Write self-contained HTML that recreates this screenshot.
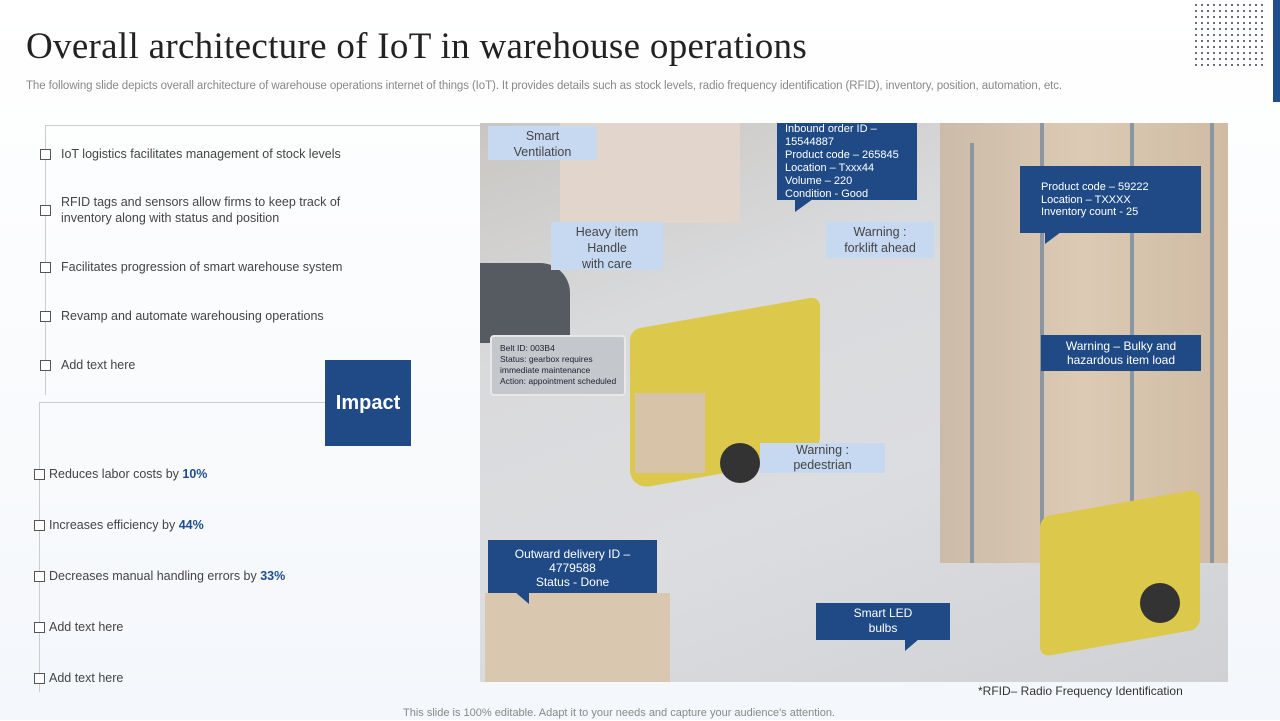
<!DOCTYPE html>
<html><head><meta charset="utf-8"><style>
*{margin:0;padding:0;box-sizing:border-box}
body{width:1280px;height:720px;position:relative;overflow:hidden;background:linear-gradient(#fff,#f4f7fb);font-family:"Liberation Sans",sans-serif;color:#444}
.a{position:absolute}
h1{position:absolute;left:26px;top:25px;font-family:"Liberation Serif",serif;font-weight:normal;font-size:37px;color:#222;letter-spacing:0.3px}
.sub{left:26px;top:80px;font-size:11.5px;color:#888;letter-spacing:-0.1px;white-space:nowrap}
.cb{position:absolute;width:11px;height:11px;border:1.3px solid #555;background:#fff}
.t{position:absolute;font-size:12.5px;color:#444;line-height:16px}
.t b{color:#1f4e8c}
.lb{position:absolute;background:#c6d9f0;color:#444;font-size:12.5px;text-align:center;line-height:16px}
.db{position:absolute;background:#1f4a86;color:#fff;font-size:11px;line-height:12.5px}
.dots{left:1193px;top:2px;width:72px;height:66px;background-image:radial-gradient(circle,#556 0.9px,transparent 1.2px);background-size:6px 6px}
</style></head><body>
<h1>Overall architecture of IoT in warehouse operations</h1>
<div class="a sub">The following slide depicts overall architecture of warehouse operations internet of things (IoT). It provides details such as stock levels, radio frequency identification (RFID), inventory,  position, automation, etc.</div>
<div class="a dots"></div>
<div class="a" style="left:1273px;top:0;width:7px;height:102px;background:#1f4e8c"></div>

<div class="a" style="left:45px;top:125px;width:436px;height:1px;background:#ccc"></div>
<div class="a" style="left:45px;top:125px;width:1px;height:270px;background:#ccc"></div>
<div class="a" style="left:39px;top:402px;width:290px;height:1px;background:#ccc"></div>
<div class="a" style="left:39px;top:402px;width:1px;height:290px;background:#ccc"></div>

<div class="cb" style="left:40px;top:149px"></div><div class="t" style="left:61px;top:146px">IoT logistics facilitates management  of stock levels</div>
<div class="cb" style="left:40px;top:205px"></div><div class="t" style="left:61px;top:194px">RFID tags and sensors allow firms to keep track of<br>inventory along with status and position</div>
<div class="cb" style="left:40px;top:262px"></div><div class="t" style="left:61px;top:259px">Facilitates progression of smart warehouse  system</div>
<div class="cb" style="left:40px;top:311px"></div><div class="t" style="left:61px;top:308px">Revamp and automate warehousing operations</div>
<div class="cb" style="left:40px;top:360px"></div><div class="t" style="left:61px;top:357px">Add text here</div>

<div class="a" style="left:325px;top:360px;width:86px;height:86px;background:#1f4a86;color:#fff;font-size:20px;font-weight:bold;text-align:center;line-height:86px">Impact</div>

<div class="cb" style="left:34px;top:469px"></div><div class="t" style="left:49px;top:466px">Reduces labor costs by <b>10%</b></div>
<div class="cb" style="left:34px;top:520px"></div><div class="t" style="left:49px;top:517px">Increases efficiency by <b>44%</b></div>
<div class="cb" style="left:34px;top:571px"></div><div class="t" style="left:49px;top:568px">Decreases manual handling errors by <b>33%</b></div>
<div class="cb" style="left:34px;top:622px"></div><div class="t" style="left:49px;top:619px">Add text here</div>
<div class="cb" style="left:34px;top:673px"></div><div class="t" style="left:49px;top:670px">Add text here</div>

<!-- photo -->
<div class="a" style="left:480px;top:123px;width:748px;height:559px;background:linear-gradient(160deg,#c9c6c2 0%,#d9dadc 30%,#dcdde0 60%,#cfd1d4 100%);overflow:hidden">
 <div class="a" style="left:80px;top:0;width:180px;height:100px;background:#e2d6cc"></div>
 <div class="a" style="left:0;top:140px;width:90px;height:80px;background:#555b60;border-radius:0 30px 0 0"></div>
 <div class="a" style="left:460px;top:0;width:288px;height:440px;background:linear-gradient(90deg,#cbbba8,#dccab4 50%,#d0bba3)"></div>
 <div class="a" style="left:490px;top:20px;width:4px;height:420px;background:#8a96a2"></div>
 <div class="a" style="left:560px;top:0;width:4px;height:440px;background:#8a96a2"></div>
 <div class="a" style="left:650px;top:0;width:4px;height:440px;background:#8a96a2"></div>
 <div class="a" style="left:730px;top:0;width:4px;height:440px;background:#8a96a2"></div>
 <div class="a" style="left:150px;top:190px;width:190px;height:160px;background:#dcc84a;border-radius:10px 10px 20px 20px;transform:skewY(-10deg)"></div>
 <div class="a" style="left:155px;top:270px;width:70px;height:80px;background:#d7c4a8"></div>
 <div class="a" style="left:240px;top:320px;width:40px;height:40px;border-radius:50%;background:#333"></div>
 <div class="a" style="left:560px;top:380px;width:160px;height:140px;background:#dcc84a;border-radius:10px;transform:skewY(-10deg)"></div>
 <div class="a" style="left:660px;top:460px;width:40px;height:40px;border-radius:50%;background:#333"></div>
 <div class="a" style="left:5px;top:470px;width:185px;height:89px;background:#d9c7b0"></div>
</div>

<div class="lb" style="left:488px;top:126px;width:109px;height:34px;padding-top:2px">Smart<br>Ventilation</div>
<div class="db" style="left:777px;top:123px;width:140px;height:77px;padding:0 0 0 8px"><span style="line-height:13px">Inbound order ID –<br>15544887<br>Product code – 265845<br>Location – Txxx44<br>Volume – 220<br>Condition - Good</span></div>
<div class="a" style="left:795px;top:199px;width:0;height:0;border-left:0 solid transparent;border-right:18px solid transparent;border-top:13px solid #1f4a86"></div>
<div class="lb" style="left:551px;top:222px;width:112px;height:48px;padding-top:2px">Heavy item<br>Handle<br>with care</div>
<div class="lb" style="left:826px;top:222px;width:108px;height:36px;padding-top:2px">Warning :<br>forklift ahead</div>
<div class="db" style="left:1020px;top:166px;width:181px;height:67px;padding:15px 0 0 21px">Product code – 59222<br>Location – TXXXX<br>Inventory count - 25</div>
<div class="a" style="left:1045px;top:232px;width:0;height:0;border-right:16px solid transparent;border-top:12px solid #1f4a86"></div>
<div class="a" style="left:490px;top:335px;width:136px;height:61px;background:#c4c7cb;border:2px solid #e8e8e8;border-radius:4px;font-size:8.5px;line-height:11px;color:#223;padding:6px 0 0 8px">Belt ID: 003B4<br>Status: gearbox requires<br>immediate maintenance<br>Action: appointment scheduled</div>
<div class="db" style="left:1041px;top:335px;width:160px;height:36px;text-align:center;font-size:12px;line-height:14px;padding-top:4px">Warning – Bulky and<br>hazardous item load</div>
<div class="lb" style="left:760px;top:443px;width:125px;height:30px;line-height:15px">Warning :<br>pedestrian</div>
<div class="db" style="left:488px;top:540px;width:169px;height:53px;text-align:center;font-size:12px;line-height:14px;padding-top:7px">Outward delivery ID –<br>4779588<br>Status - Done</div>
<div class="a" style="left:515px;top:592px;width:0;height:0;border-left:14px solid transparent;border-top:12px solid #1f4a86"></div>
<div class="db" style="left:816px;top:603px;width:134px;height:37px;text-align:center;font-size:12px;line-height:15px;padding-top:3px">Smart LED<br>bulbs</div>
<div class="a" style="left:905px;top:639px;width:0;height:0;border-right:14px solid transparent;border-top:12px solid #1f4a86"></div>

<div class="t" style="left:978px;top:683px;font-size:12px;color:#333">*RFID– Radio Frequency Identification</div>
<div class="t" style="left:403px;top:705px;font-size:11px;color:#888">This slide is 100% editable. Adapt it to your needs and capture your audience's attention.</div>
</body></html>
